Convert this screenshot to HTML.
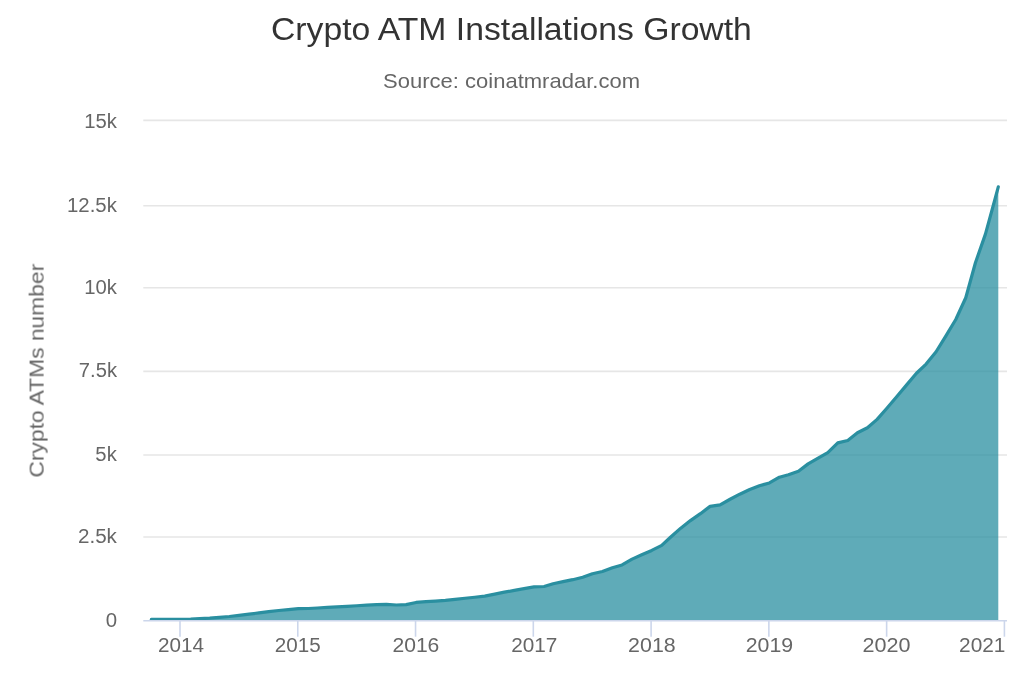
<!DOCTYPE html>
<html><head><meta charset="utf-8"><title>Crypto ATM Installations Growth</title>
<style>
html,body{margin:0;padding:0;background:#fff;}
svg{display:block;font-family:"Liberation Sans",sans-serif;}
</style></head><body>
<svg width="1024" height="683" viewBox="0 0 1024 683">
<rect x="0" y="0" width="1024" height="683" fill="#ffffff"/>
<g stroke="#e6e6e6" stroke-width="1.6" fill="none">
<path d="M143.3 120.4 L1007 120.4"/>
<path d="M143.3 205.8 L1007 205.8"/>
<path d="M143.3 287.75 L1007 287.75"/>
<path d="M143.3 371.4 L1007 371.4"/>
<path d="M143.3 455.0 L1007 455.0"/>
<path d="M143.3 537.0 L1007 537.0"/>
</g>
<defs><clipPath id="pc"><rect x="143.3" y="119.6" width="863.7" height="500.60"/></clipPath></defs>
<g clip-path="url(#pc)">
<path d="M151.30 619.40 L161.03 619.40 L170.71 619.39 L180.70 619.25 L190.69 619.12 L199.72 618.69 L209.72 618.14 L219.39 617.39 L229.38 616.51 L239.06 615.34 L249.05 614.12 L259.05 612.89 L268.72 611.66 L278.71 610.47 L288.38 609.58 L298.38 608.65 L308.37 608.51 L317.40 608.02 L327.40 607.45 L337.07 606.90 L347.06 606.32 L356.74 605.77 L366.73 605.20 L376.72 604.71 L386.40 604.31 L396.39 604.99 L406.06 604.59 L416.06 602.45 L426.05 601.72 L435.40 601.04 L445.40 600.32 L455.07 599.34 L465.06 598.26 L474.74 597.23 L484.73 596.13 L494.73 594.12 L504.40 592.18 L514.39 590.37 L524.07 588.62 L534.06 586.88 L544.06 586.50 L553.08 583.74 L563.08 581.68 L572.75 579.69 L582.74 577.25 L592.42 573.70 L602.41 571.54 L612.41 567.67 L622.08 564.92 L632.07 559.12 L641.74 554.79 L651.74 550.43 L661.73 545.39 L670.76 537.00 L680.76 528.17 L690.43 520.56 L700.42 513.66 L710.10 506.37 L720.09 504.82 L730.09 499.26 L739.76 494.18 L749.75 489.46 L759.42 485.73 L769.42 482.99 L779.41 477.20 L788.44 474.70 L798.44 471.19 L808.11 463.90 L818.10 458.22 L827.78 452.60 L837.77 442.87 L847.76 440.45 L857.44 432.75 L867.43 427.78 L877.10 419.40 L887.10 407.98 L897.09 396.18 L906.44 385.10 L916.44 373.22 L926.11 364.05 L936.10 351.77 L945.78 336.19 L955.77 319.51 L965.77 297.74 L975.44 262.73 L985.43 234.12 L995.11 198.78 L998.30 186.90 L998.30 620.2 L151.30 620.2 Z" fill="#2a8fa0" fill-opacity="0.75" stroke="none"/>
<path d="M151.30 619.40 L161.03 619.40 L170.71 619.39 L180.70 619.25 L190.69 619.12 L199.72 618.69 L209.72 618.14 L219.39 617.39 L229.38 616.51 L239.06 615.34 L249.05 614.12 L259.05 612.89 L268.72 611.66 L278.71 610.47 L288.38 609.58 L298.38 608.65 L308.37 608.51 L317.40 608.02 L327.40 607.45 L337.07 606.90 L347.06 606.32 L356.74 605.77 L366.73 605.20 L376.72 604.71 L386.40 604.31 L396.39 604.99 L406.06 604.59 L416.06 602.45 L426.05 601.72 L435.40 601.04 L445.40 600.32 L455.07 599.34 L465.06 598.26 L474.74 597.23 L484.73 596.13 L494.73 594.12 L504.40 592.18 L514.39 590.37 L524.07 588.62 L534.06 586.88 L544.06 586.50 L553.08 583.74 L563.08 581.68 L572.75 579.69 L582.74 577.25 L592.42 573.70 L602.41 571.54 L612.41 567.67 L622.08 564.92 L632.07 559.12 L641.74 554.79 L651.74 550.43 L661.73 545.39 L670.76 537.00 L680.76 528.17 L690.43 520.56 L700.42 513.66 L710.10 506.37 L720.09 504.82 L730.09 499.26 L739.76 494.18 L749.75 489.46 L759.42 485.73 L769.42 482.99 L779.41 477.20 L788.44 474.70 L798.44 471.19 L808.11 463.90 L818.10 458.22 L827.78 452.60 L837.77 442.87 L847.76 440.45 L857.44 432.75 L867.43 427.78 L877.10 419.40 L887.10 407.98 L897.09 396.18 L906.44 385.10 L916.44 373.22 L926.11 364.05 L936.10 351.77 L945.78 336.19 L955.77 319.51 L965.77 297.74 L975.44 262.73 L985.43 234.12 L995.11 198.78 L998.30 186.90" fill="none" stroke="#2a8fa0" stroke-width="3.2" stroke-linejoin="round" stroke-linecap="round"/>
</g>
<g stroke="#ccd6eb" stroke-width="1.6" fill="none">
<path d="M143.3 620.7 L1007 620.7"/>
<path d="M180.00 620.7 L180.00 636.7"/>
<path d="M297.77 620.7 L297.77 636.7"/>
<path d="M415.54 620.7 L415.54 636.7"/>
<path d="M533.31 620.7 L533.31 636.7"/>
<path d="M651.09 620.7 L651.09 636.7"/>
<path d="M768.86 620.7 L768.86 636.7"/>
<path d="M886.63 620.7 L886.63 636.7"/>
<path d="M1004.40 620.7 L1004.40 636.7"/>
</g>
<g opacity="0.999">
<text transform="translate(271.00 40.2) scale(1.0949 1)" font-size="30.8" fill="#333333">Crypto ATM Installations Growth</text>
<text transform="translate(382.97 88.4) scale(1.0908 1)" font-size="20.2" fill="#666666">Source: coinatmradar.com</text>
<text transform="translate(43.6 477.57) rotate(-90) scale(1.1412 1)" font-size="20.0" fill="#666666">Crypto ATMs number</text>
<text transform="translate(84.15 128.0) scale(1.0347 1)" font-size="19.6" fill="#666666">15k</text>
<text transform="translate(66.94 212.0) scale(1.0409 1)" font-size="19.6" fill="#666666">12.5k</text>
<text transform="translate(84.15 294.0) scale(1.0347 1)" font-size="19.6" fill="#666666">10k</text>
<text transform="translate(78.82 377.40000000000003) scale(1.0306 1)" font-size="19.6" fill="#666666">7.5k</text>
<text transform="translate(95.37 461.0) scale(1.0350 1)" font-size="19.6" fill="#666666">5k</text>
<text transform="translate(77.95 542.9) scale(1.0528 1)" font-size="19.6" fill="#666666">2.5k</text>
<text transform="translate(105.72 626.7) scale(1.0421 1)" font-size="19.6" fill="#666666">0</text>
<text transform="translate(158.00 652.0) scale(1.0556 1)" font-size="19.6" fill="#666666">2014</text>
<text transform="translate(274.80 652.0) scale(1.0539 1)" font-size="19.6" fill="#666666">2015</text>
<text transform="translate(392.42 652.0) scale(1.0766 1)" font-size="19.6" fill="#666666">2016</text>
<text transform="translate(511.15 652.0) scale(1.0587 1)" font-size="19.6" fill="#666666">2017</text>
<text transform="translate(628.12 652.0) scale(1.0905 1)" font-size="19.6" fill="#666666">2018</text>
<text transform="translate(745.77 652.0) scale(1.0874 1)" font-size="19.6" fill="#666666">2019</text>
<text transform="translate(862.54 652.0) scale(1.1018 1)" font-size="19.6" fill="#666666">2020</text>
<text transform="translate(959.08 652.0) scale(1.0627 1)" font-size="19.6" fill="#666666">2021</text>
</g>
</svg>
</body></html>
